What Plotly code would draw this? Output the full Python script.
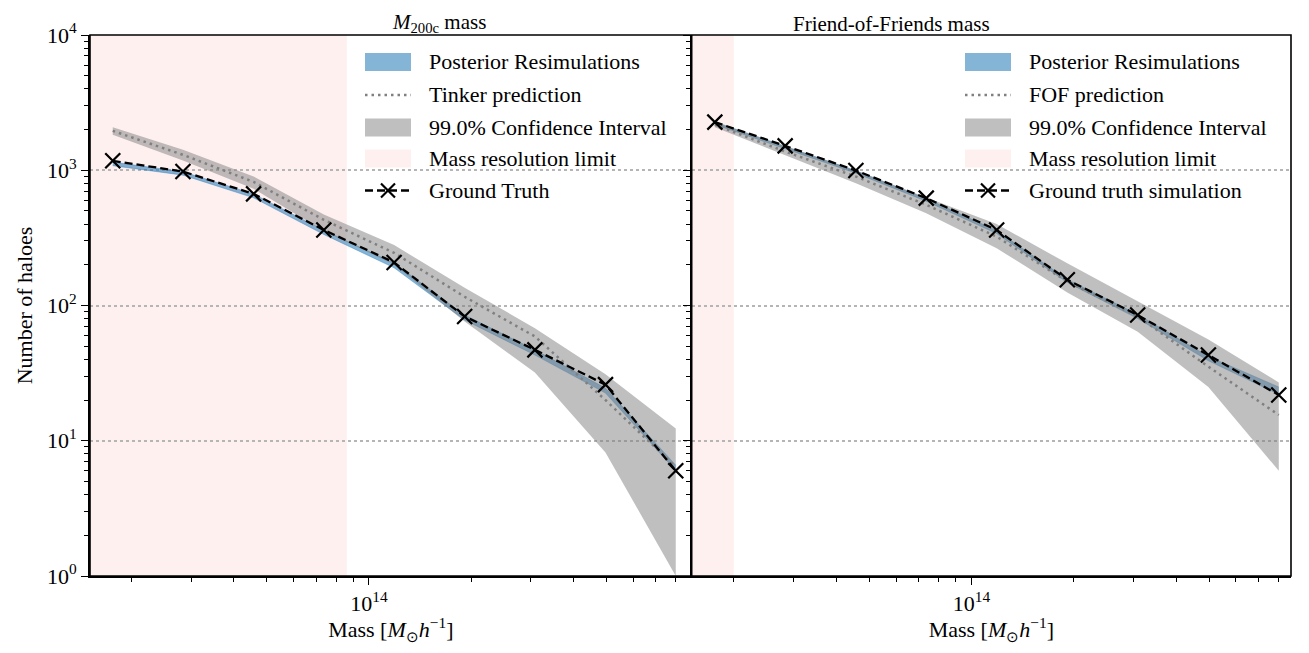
import plotly.graph_objects as go

# ---------------- data ----------------
mass = [1.758e13, 2.831e13, 4.571e13, 7.362e13, 1.186e14, 1.914e14, 3.083e14, 4.977e14, 8.017e14]

# Left panel: M200c mass
gt_m200 = [1174, 978, 669, 362, 208, 83, 47, 26, 6]
post_m200_lo = [1080, 920, 625, 335, 190, 78, 43, 22.5, 6.0]
post_m200_hi = [1150, 975, 668, 360, 206, 85, 47, 24.5, 6.6]
tinker = [1955, 1300, 820, 430, 245, 116, 59, 20, 6.4]
ci_m200_lo = [1830, 1180, 730, 355, 200, 76, 32, 8.2, 1.0]
ci_m200_hi = [2080, 1420, 900, 470, 280, 135, 68, 31, 12.3]
res_limit_m200 = 8.61e13

# Right panel: Friend-of-Friends mass
gt_fof = [2268, 1515, 995, 622, 362, 155, 85, 43, 21.8]
post_fof_lo = [2180, 1440, 950, 590, 340, 148, 80, 39, 22]
post_fof_hi = [2260, 1500, 990, 618, 358, 156, 86, 42, 25]
fof_pred = [2168, 1375, 898, 555, 323, 150, 83, 35.3, 15.5]
ci_fof_lo = [2080, 1290, 800, 480, 265, 125, 64, 25, 6]
ci_fof_hi = [2300, 1520, 1000, 630, 400, 205, 107, 56, 27]
res_limit_fof = 2.0e13

titles = ["<i>M</i><sub>200c</sub> mass", "Friend-of-Friends mass"]
legend_labels = [
    ["Posterior Resimulations", "Tinker prediction", "99.0% Confidence Interval",
     "Mass resolution limit", "Ground Truth"],
    ["Posterior Resimulations", "FOF prediction", "99.0% Confidence Interval",
     "Mass resolution limit", "Ground truth simulation"],
]
ytick_vals = [1, 10, 100, 1000, 10000]
ytick_text = ["10<sup>0</sup>", "10<sup>1</sup>", "10<sup>2</sup>", "10<sup>3</sup>", "10<sup>4</sup>"]
xtick_vals = [1e14]
xtick_text = ["10<sup>14</sup>"]
x_ranges = [[13.178, 14.951], [13.177, 14.940]]

# ---------------- styling ----------------
FONT = "Liberation Serif"
FS = 22
BLUE = "rgba(31,119,180,0.55)"
BLUE_LINE = "rgba(31,119,180,0.45)"
GRAY = "rgba(128,128,128,0.5)"
PINK = "rgba(255,0,0,0.06)"
DOT = "2.5px,4px"
DASH = "8px,4px"

OFF = 8  # page body margin in the browser
W, H = 1293, 637
ML, MR, MT, MB = 82, 10, 27, 69
PW = W - ML - MR
PH = H - MT - MB
SPLIT = 0.501


def px_x(X):
    return (X - OFF - ML) / PW


def px_y(Y):
    return (H - MB - (Y - OFF)) / PH


fig = go.Figure()

panels = [
    (gt_m200, post_m200_lo, post_m200_hi, tinker, ci_m200_lo, ci_m200_hi, res_limit_m200),
    (gt_fof, post_fof_lo, post_fof_hi, fof_pred, ci_fof_lo, ci_fof_hi, res_limit_fof),
]

for i, (gt, plo, phi, pred, clo, chi, lim) in enumerate(panels):
    xa = "x" if i == 0 else "x2"
    ya = "y" if i == 0 else "y2"
    # mass resolution limit
    fig.add_shape(type="rect", xref=xa, yref=f"{ya} domain",
                  x0=10 ** x_ranges[i][0], x1=lim, y0=0, y1=1,
                  fillcolor=PINK, line=dict(width=0), layer="below")
    # posterior band
    fig.add_trace(go.Scatter(x=mass, y=phi, xaxis=xa, yaxis=ya, mode="lines",
                             line=dict(width=0.8, color=BLUE_LINE), showlegend=False))
    fig.add_trace(go.Scatter(x=mass, y=plo, xaxis=xa, yaxis=ya, mode="lines",
                             line=dict(width=0.8, color=BLUE_LINE),
                             fill="tonexty", fillcolor=BLUE, showlegend=False))
    # prediction
    fig.add_trace(go.Scatter(x=mass, y=pred, xaxis=xa, yaxis=ya, mode="lines",
                             line=dict(width=2.5, color="gray", dash=DOT), showlegend=False))
    # CI band
    fig.add_trace(go.Scatter(x=mass, y=chi, xaxis=xa, yaxis=ya, mode="lines",
                             line=dict(width=0), showlegend=False))
    fig.add_trace(go.Scatter(x=mass, y=clo, xaxis=xa, yaxis=ya, mode="lines",
                             line=dict(width=0), fill="tonexty", fillcolor=GRAY,
                             showlegend=False))
    # ground truth
    fig.add_trace(go.Scatter(x=mass, y=gt, xaxis=xa, yaxis=ya, mode="lines+markers",
                             line=dict(width=2.3, color="black", dash=DASH),
                             marker=dict(symbol="x-thin", size=15,
                                         line=dict(width=2.2, color="black")),
                             showlegend=False))

axis_common = dict(showline=True, linecolor="black", linewidth=1.6, mirror=False,
                   ticks="outside", ticklen=7, tickwidth=1.4, tickcolor="black",
                   tickfont=dict(family=FONT, size=FS, color="black"), zeroline=False,
                   automargin=False)

minor_y = [k * 10 ** e for e in range(0, 4) for k in range(2, 10)]
minor_x = [k * 10 ** e for e in range(13, 15) for k in range(1, 10)]

for i in range(2):
    xkey = "xaxis" if i == 0 else "xaxis2"
    ykey = "yaxis" if i == 0 else "yaxis2"
    dom = [0, SPLIT] if i == 0 else [SPLIT, 1.0]
    fig.layout[xkey] = dict(
        type="log", range=x_ranges[i], domain=dom, anchor="y" if i == 0 else "y2",
        tickmode="array", tickvals=xtick_vals, ticktext=xtick_text, showgrid=False,
        minor=dict(ticks="outside", ticklen=4, tickwidth=1.1, tickcolor="black",
                   tickmode="array", tickvals=minor_x, showgrid=False),
        title=dict(text="Mass [<i>M</i><sub>⊙</sub><i>h</i><sup>−1</sup>]",
                   font=dict(family=FONT, size=FS, color="black"), standoff=6),
        **axis_common)
    fig.layout[ykey] = dict(
        type="log", range=[0, 4], anchor="x" if i == 0 else "x2",
        tickmode="array", tickvals=ytick_vals, ticktext=ytick_text,
        showticklabels=(i == 0),
        showgrid=True, gridcolor="#b5b5b5", griddash="dot", gridwidth=1.5,
        minor=dict(ticks="outside", ticklen=4, tickwidth=1.1, tickcolor="black",
                   tickmode="array", tickvals=minor_y, showgrid=False),
        **axis_common)
    if i == 1:
        fig.layout[ykey].matches = "y"

fig.layout.yaxis.title = dict(text="Number of haloes",
                              font=dict(family=FONT, size=FS, color="black"), standoff=8)

# frame
fig.add_shape(type="rect", xref="paper", yref="paper", x0=0, x1=1, y0=0, y1=1,
              line=dict(color="black", width=1.6), layer="above")
fig.add_shape(type="line", xref="paper", yref="paper", x0=SPLIT, x1=SPLIT, y0=0, y1=1,
              line=dict(color="black", width=1.6), layer="above")

# panel titles
for i, t in enumerate(titles):
    fig.add_annotation(text=t, xref="paper", yref="paper",
                       x=SPLIT / 2 if i == 0 else (SPLIT + 1) / 2,
                       y=1, yanchor="bottom", yshift=-2, showarrow=False, borderpad=0,
                       font=dict(family=FONT, size=21, color="black"))

# manual legends (pixel layout in the screenshot)
legend_text_x = [427, 1027]
row_y = [62, 95, 127.5, 158.5, 190.5]
for i in range(2):
    tx = legend_text_x[i]
    x0, x1 = px_x(tx - 62), px_x(tx - 16)
    for r, label in enumerate(legend_labels[i]):
        yc = row_y[r]
        if r in (0, 2, 3):
            col = {0: BLUE, 2: GRAY, 3: PINK}[r]
            fig.add_shape(type="rect", xref="paper", yref="paper",
                          x0=x0, x1=x1, y0=px_y(yc + 9), y1=px_y(yc - 9),
                          fillcolor=col, line=dict(width=0), layer="above")
        elif r == 1:
            fig.add_shape(type="line", xref="paper", yref="paper",
                          x0=x0, x1=x1, y0=px_y(yc), y1=px_y(yc),
                          line=dict(color="gray", width=2.5, dash=DOT), layer="above")
        else:
            fig.add_shape(type="line", xref="paper", yref="paper",
                          x0=x0, x1=x1, y0=px_y(yc), y1=px_y(yc),
                          line=dict(color="black", width=2.3, dash=DASH), layer="above")
            for s in (-1, 1):
                fig.add_shape(type="line", xref="paper", yref="paper",
                              x0=px_x(tx - 39 - 7), x1=px_x(tx - 39 + 7),
                              y0=px_y(yc - 7 * s), y1=px_y(yc + 7 * s),
                              line=dict(color="black", width=2.2), layer="above")
        fig.add_annotation(text=label, xref="paper", yref="paper",
                           x=px_x(tx), y=px_y(yc), xanchor="left", yanchor="middle",
                           showarrow=False, font=dict(family=FONT, size=FS, color="black"))

fig.update_layout(
    showlegend=False,
    width=W, height=H,
    margin=dict(l=ML, r=MR, t=MT, b=MB, autoexpand=False),
    paper_bgcolor="white", plot_bgcolor="white",
    font=dict(family=FONT, color="black"),
)

fig.write_html("out.html")
